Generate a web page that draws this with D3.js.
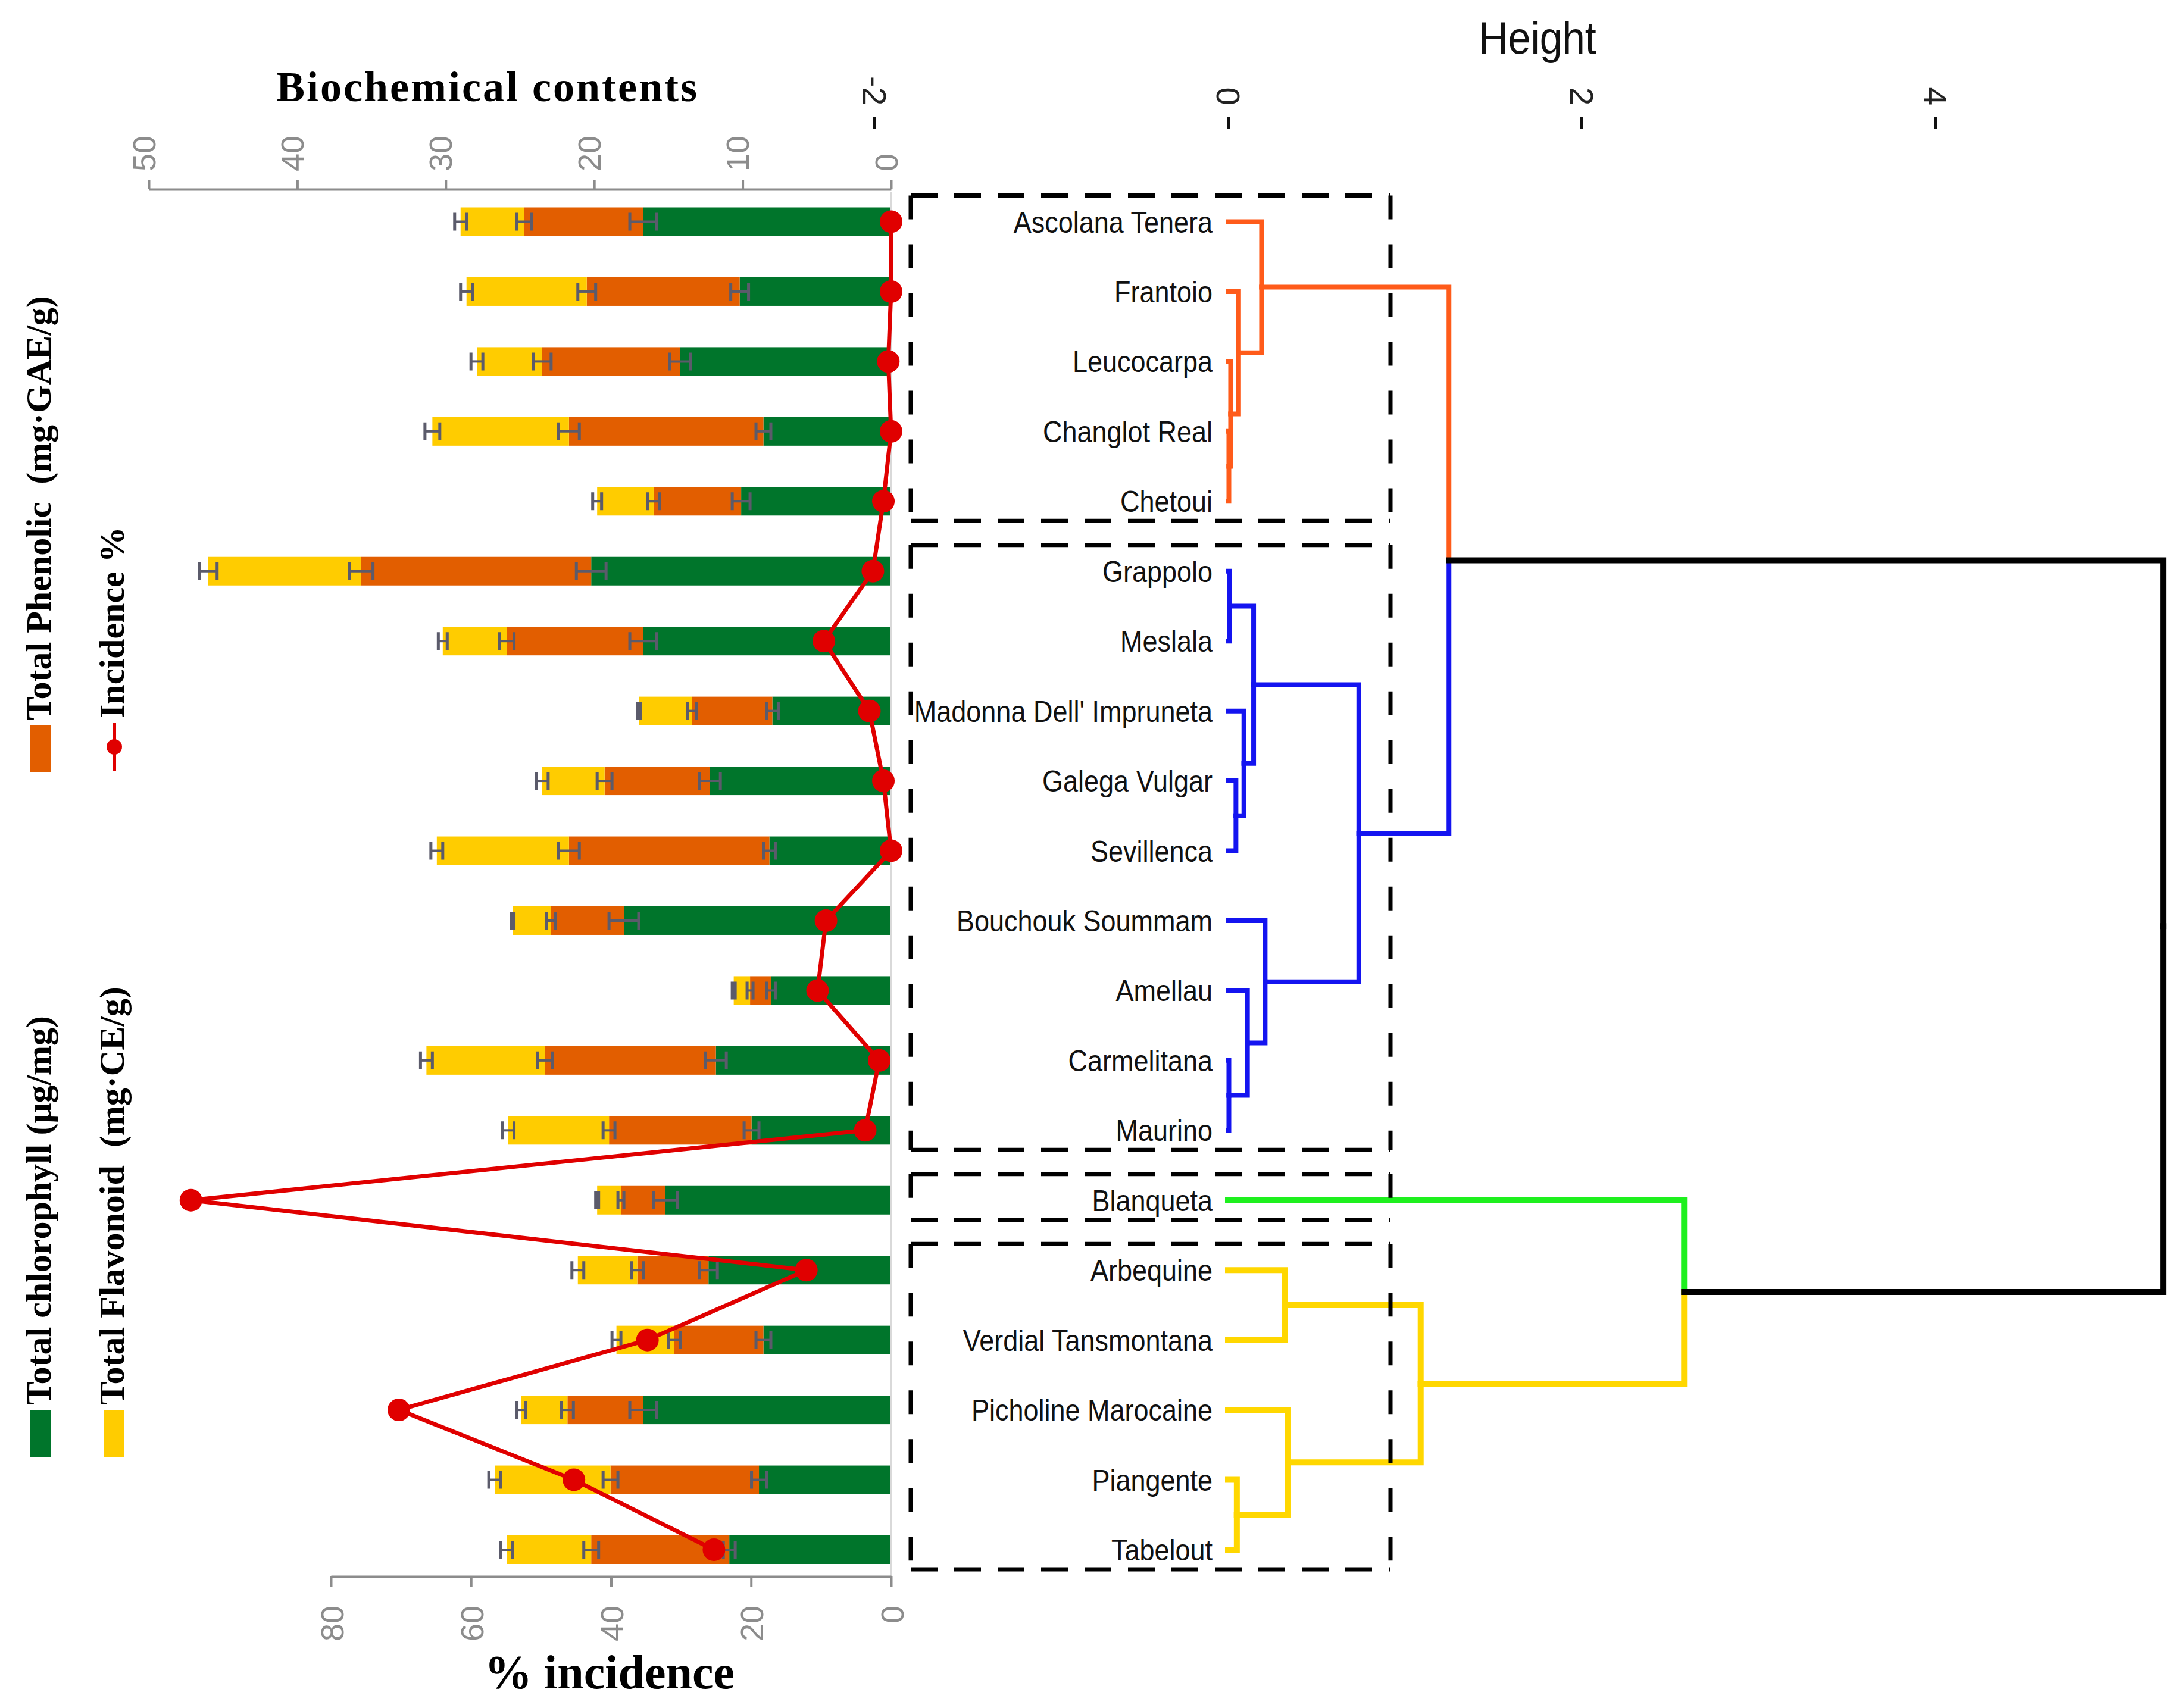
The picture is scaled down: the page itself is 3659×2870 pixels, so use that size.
<!DOCTYPE html>
<html>
<head>
<meta charset="utf-8">
<script src="https://d3js.org/d3.v7.min.js"></script>
<style>
body { margin: 0; background: #fff; }
text { white-space: pre; }
</style>
</head>
<body>
<script>
// cultivars, top to bottom (dendrogram leaf order)
var cultivars = ["Ascolana Tenera", "Frantoio", "Leucocarpa", "Changlot Real", "Chetoui",
    "Grappolo", "Meslala", "Madonna Dell' Impruneta", "Galega Vulgar", "Sevillenca",
    "Bouchouk Soummam", "Amellau", "Carmelitana", "Maurino", "Blanqueta",
    "Arbequine", "Verdial Tansmontana", "Picholine Marocaine", "Piangente", "Tabelout"];

// biochemical contents (stacked)
var chlorophyll = [16.7, 10.2, 14.2, 8.6, 10.1, 20.2, 16.7, 8.0, 12.2, 8.2, 18.0, 8.1, 11.8, 9.4, 15.2, 12.3, 8.6, 16.7, 8.9, 10.9];
var phenolic    = [8.0, 10.3, 9.3, 13.1, 5.9, 15.5, 9.2, 5.4, 7.1, 13.5, 4.9, 1.4, 11.5, 9.6, 3.0, 4.8, 6.0, 5.1, 10.0, 9.3];
var flavonoid   = [4.3, 8.1, 4.4, 9.2, 3.8, 10.3, 4.3, 3.6, 4.2, 8.9, 2.6, 1.1, 8.0, 6.8, 1.6, 4.0, 3.9, 3.1, 7.8, 5.7];
var errChl = [0.9, 0.6, 0.7, 0.5, 0.6, 1.0, 0.9, 0.4, 0.7, 0.4, 1.0, 0.3, 0.7, 0.5, 0.8, 0.6, 0.5, 0.9, 0.5, 0.4];
var errPhe = [0.5, 0.6, 0.6, 0.7, 0.4, 0.8, 0.5, 0.3, 0.5, 0.7, 0.3, 0.2, 0.5, 0.4, 0.2, 0.4, 0.4, 0.4, 0.5, 0.5];
var errFla = [0.4, 0.4, 0.4, 0.5, 0.3, 0.6, 0.3, 0.1, 0.4, 0.4, 0.1, 0.1, 0.4, 0.4, 0.1, 0.4, 0.3, 0.3, 0.4, 0.4];

// % incidence
var incidence = [0, 0, 0.4, 0, 1.1, 2.6, 9.6, 3.1, 1.1, 0, 9.3, 10.5, 1.7, 3.7, 100, 12.1, 34.8, 70.3, 45.3, 25.3];

// dendrogram: cluster of each leaf, and merges [a, b, height] (negative = leaf number, positive = merge number)
var cluster = [1, 1, 1, 1, 1, 2, 2, 2, 2, 2, 2, 2, 2, 2, 3, 4, 4, 4, 4, 4];
var merges = [
    [-4, -5, 0.005], [-3, 1, 0.015], [-2, 2, 0.06], [-1, 3, 0.19],
    [-6, -7, 0.01], [-9, -10, 0.045], [-8, 6, 0.09], [5, 7, 0.145],
    [-13, -14, 0.005], [-12, 9, 0.11], [-11, 10, 0.21], [8, 11, 0.74],
    [4, 12, 1.25],
    [-16, -17, 0.32], [-19, -20, 0.05], [-18, 15, 0.34], [14, 16, 1.09],
    [-15, 17, 2.58], [13, 18, 5.29]
];

var bioTicks = [0, 10, 20, 30, 40, 50];
var incTicks = [0, 20, 40, 60, 80];
var heightTicks = [-2, 0, 2, 4];

var W = 3659, H = 2870;
var colChl = "#00752b", colPhe = "#e25e00", colFla = "#ffcc00", colRed = "#e00000";
var clusterColor = {0: "#000000", 1: "#ff5b1a", 2: "#1414f0", 3: "#1ef01e", 4: "#ffd700"};
var clusterWidth = {0: 10, 1: 8, 2: 8, 3: 10, 4: 10};

var svg = d3.select("body").append("svg").attr("width", W).attr("height", H);

var y = d3.scalePoint().domain(cultivars).range([372.5, 2604]);
var xBio = d3.scaleLinear().domain([0, 50]).range([1497, 250]);
var xInc = d3.scaleLinear().domain([0, 80]).range([1497, 556]);
var xH = d3.scaleLinear().domain([0, 4]).range([2063, 3251]);
var bh = 48;

// ---- stacked bars ----
var table = cultivars.map(function (c, i) {
    return {name: c, chl: chlorophyll[i], phe: phenolic[i], fla: flavonoid[i],
        e_chl: errChl[i], e_phe: errPhe[i], e_fla: errFla[i]};
});
var keys = ["chl", "phe", "fla"];
var colors = {chl: colChl, phe: colPhe, fla: colFla};
var series = d3.stack().keys(keys)(table);

svg.append("g").selectAll("g").data(series).enter().append("g")
    .attr("fill", function (s) { return colors[s.key]; })
    .selectAll("rect").data(function (s) { return s; }).enter().append("rect")
    .attr("x", function (d) { return xBio(d[1]); })
    .attr("width", function (d) { return xBio(d[0]) - xBio(d[1]); })
    .attr("y", function (d) { return y(d.data.name) - bh / 2; })
    .attr("height", bh);

// error bars at each segment end
var errG = svg.append("g").attr("stroke", "#5b5b6b").attr("fill", "none");
series.forEach(function (s) {
    s.forEach(function (d) {
        var v = d[1], e = d.data["e_" + s.key], cy = y(d.data.name);
        var x0 = xBio(v - e), x1 = xBio(v + e);
        errG.append("path").attr("stroke-width", 4)
            .attr("d", "M" + x0 + "," + cy + "H" + x1);
        errG.append("path").attr("stroke-width", 5)
            .attr("d", "M" + x0 + "," + (cy - 15) + "V" + (cy + 15) + "M" + x1 + "," + (cy - 15) + "V" + (cy + 15));
    });
});

// category axis line
svg.append("line").attr("x1", xBio(0)).attr("x2", xBio(0)).attr("y1", 322).attr("y2", 2649)
    .attr("stroke", "#d9d9d9").attr("stroke-width", 3);

// ---- axes ----
var gTop = svg.append("g").attr("transform", "translate(0,318)")
    .call(d3.axisTop(xBio).tickValues(bioTicks).tickSize(15).tickSizeOuter(0).tickFormat(function (d) { return d; }));
gTop.select(".domain").attr("stroke", "#8c8c8c").attr("stroke-width", 4);
gTop.selectAll(".tick line").attr("stroke", "#8c8c8c").attr("stroke-width", 4);
gTop.selectAll(".tick text").attr("x", null).attr("y", null).attr("dy", null)
    .attr("text-anchor", "start").attr("transform", "translate(10,-30) rotate(-90)")
    .attr("fill", "#8c8c8c").style("font", "54px 'Liberation Sans'");

var gBot = svg.append("g").attr("transform", "translate(0,2649)")
    .call(d3.axisBottom(xInc).tickValues(incTicks).tickSize(17).tickSizeOuter(0).tickFormat(function (d) { return d; }));
gBot.select(".domain").attr("stroke", "#8c8c8c").attr("stroke-width", 4);
gBot.selectAll(".tick line").attr("stroke", "#8c8c8c").attr("stroke-width", 4);
gBot.selectAll(".tick text").attr("x", null).attr("y", null).attr("dy", null)
    .attr("text-anchor", "end").attr("transform", "translate(20,49) rotate(-90)")
    .attr("fill", "#8c8c8c").style("font", "54px 'Liberation Sans'");

var gH = svg.append("g").attr("transform", "translate(0,217)")
    .call(d3.axisTop(xH).tickValues(heightTicks).tickSize(20).tickFormat(function (d) { return String(d); }));
gH.select(".domain").remove();
gH.selectAll(".tick line").attr("stroke", "#111").attr("stroke-width", 5);
gH.selectAll(".tick text").attr("x", null).attr("y", null).attr("dy", null)
    .attr("text-anchor", "end").attr("transform", "translate(-20,-40) rotate(90)")
    .attr("fill", "#222").style("font", "55px 'Liberation Sans'");

// axis titles
svg.append("text").attr("x", 819).attr("y", 170).attr("text-anchor", "middle")
    .style("font", "bold 72px 'Liberation Serif'").style("letter-spacing", "3px")
    .text("Biochemical contents");
svg.append("text").attr("x", 1024).attr("y", 2837).attr("text-anchor", "middle")
    .style("font", "bold 80px 'Liberation Serif'").text("% incidence");
svg.append("text").attr("transform", "translate(2583,90) scale(0.9,1)").attr("text-anchor", "middle")
    .style("font", "76px 'Liberation Sans'").attr("fill", "#111").text("Height");

// ---- incidence line ----
var line = d3.line()
    .x(function (d) { return xInc(d); })
    .y(function (d, i) { return y(cultivars[i]); });
svg.append("path").datum(incidence).attr("d", line)
    .attr("fill", "none").attr("stroke", colRed).attr("stroke-width", 7).attr("stroke-linejoin", "round");
svg.append("g").selectAll("circle").data(incidence).enter().append("circle")
    .attr("cx", function (d) { return xInc(d); })
    .attr("cy", function (d, i) { return y(cultivars[i]); })
    .attr("r", 19).attr("fill", colRed);

// ---- dendrogram ----
var nodes = [];
function getNode(k) {
    if (k < 0) return {h: 0, y: y(cultivars[-k - 1]), cl: cluster[-k - 1]};
    return nodes[k - 1];
}
var dg = svg.append("g").attr("fill", "none").attr("stroke-linecap", "square");
merges.forEach(function (m) {
    var a = getNode(m[0]), b = getNode(m[1]);
    var node = {h: m[2], y: (a.y + b.y) / 2, cl: a.cl === b.cl ? a.cl : 0};
    [a, b].forEach(function (c) {
        dg.append("path")
            .attr("d", "M" + xH(c.h) + "," + c.y + "H" + xH(node.h) + "V" + node.y)
            .attr("stroke", clusterColor[c.cl]).attr("stroke-width", clusterWidth[c.cl]);
    });
    nodes.push(node);
});

// leaf labels
svg.append("g").selectAll("text").data(cultivars).enter().append("text")
    .attr("transform", function (d) { return "translate(2037," + (y(d) + 18) + ") scale(0.9,1)"; })
    .attr("text-anchor", "end").attr("fill", "#111")
    .style("font", "50px 'Liberation Sans'").text(function (d) { return d; });

// dashed boxes around clusters
var groups = d3.groups(cultivars, function (d, i) { return cluster[i]; });
var bx0 = 1530, bx1 = 2336;
var boxes = svg.append("g").attr("stroke", "#000").attr("stroke-width", 7).attr("fill", "none");
groups.forEach(function (g) {
    var top = y(g[1][0]) - 44, bot = y(g[1][g[1].length - 1]) + 33;
    boxes.append("path").attr("d", "M" + bx0 + "," + top + "H" + bx1 + "M" + bx0 + "," + bot + "H" + bx1)
        .attr("stroke-dasharray", "45,28");
    boxes.append("path").attr("d", "M" + bx0 + "," + top + "V" + bot + "M" + bx1 + "," + top + "V" + bot)
        .attr("stroke-dasharray", "40,42");
});

// ---- legend ----
var legend = [
    {label: "Total Phenolic\u00a0\u00a0(mg\u00b7GAE/g)", kind: "rect", color: colPhe, x: 85, y: 1218},
    {label: "Incidence %", kind: "line", color: colRed, x: 208, y: 1215},
    {label: "Total chlorophyll (\u03bcg/mg)", kind: "rect", color: colChl, x: 85, y: 2369},
    {label: "Total Flavonoid\u00a0\u00a0(mg\u00b7CE/g)", kind: "rect", color: colFla, x: 208, y: 2369}
];
legend.forEach(function (l) {
    if (l.kind === "rect") {
        svg.append("rect").attr("x", l.x - 34).attr("y", l.y).attr("width", 34).attr("height", 79).attr("fill", l.color);
    } else {
        svg.append("line").attr("x1", l.x - 16).attr("x2", l.x - 16).attr("y1", l.y).attr("y2", l.y + 80)
            .attr("stroke", l.color).attr("stroke-width", 6);
        svg.append("circle").attr("cx", l.x - 16).attr("cy", l.y + 40).attr("r", 13).attr("fill", l.color);
    }
    svg.append("text").attr("transform", "translate(" + l.x + "," + (l.y - 8) + ") rotate(-90)")
        .attr("text-anchor", "start").style("font", "bold 60px 'Liberation Serif'").attr("fill", "#000")
        .text(l.label);
});
</script>
</body>
</html>
